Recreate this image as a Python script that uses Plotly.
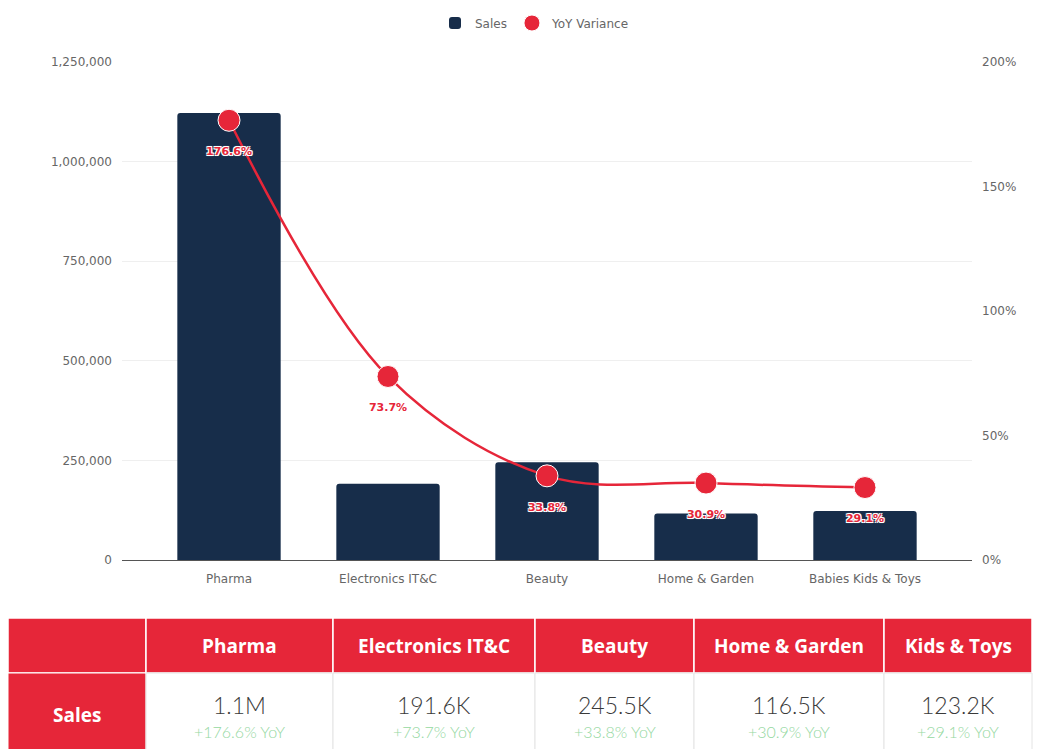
import plotly.graph_objects as go

# ---------------- data ----------------
categories = ["Pharma", "Electronics IT&C", "Beauty", "Home & Garden", "Babies Kids & Toys"]
sales = [1122000, 191600, 245500, 116500, 123200]
yoy = [176.6, 73.7, 33.8, 30.9, 29.1]

table_headers = ["", "Pharma", "Electronics IT&C", "Beauty", "Home & Garden", "Kids & Toys"]
table_row_label = "Sales"
table_values = ["1.1M", "191.6K", "245.5K", "116.5K", "123.2K"]
table_yoy = ["+176.6% YoY", "+73.7% YoY", "+33.8% YoY", "+30.9% YoY", "+29.1% YoY"]

# ---------------- styles ----------------
W, H = 1038, 749
NAVY = "#172d4a"
RED = "#e62639"
GREEN = "#95d89f"
AX_FONT = dict(family="DejaVu Sans, Roboto, Arial, sans-serif", size=12, color="#666666")

def px_x(x):
    return x / W

def px_y(y):
    return 1 - y / H

fig = go.Figure()

fig.add_trace(go.Bar(
    x=categories, y=sales, name="Sales",
    marker=dict(color=NAVY, line=dict(width=0)),
    width=0.65, yaxis="y",
))

# smooth line (no legend entry)
fig.add_trace(go.Scatter(
    x=categories, y=yoy, yaxis="y2", mode="lines",
    line=dict(color=RED, width=2.5, shape="spline", smoothing=1.0),
    showlegend=False, hoverinfo="skip",
))

# markers (legend entry)
fig.add_trace(go.Scatter(
    x=categories, y=yoy, name="YoY Variance", yaxis="y2",
    mode="markers",
    marker=dict(color=RED, size=22, line=dict(color="white", width=1)),
))

# data labels under the points
label_offset = 12.9  # in % units of the secondary axis (~32px)
fig.add_trace(go.Scatter(
    x=categories, y=[v - label_offset for v in yoy], yaxis="y2",
    mode="text", text=[f"{v:.1f}%" for v in yoy],
    textposition="middle center",
    textfont=dict(family="DejaVu Sans, Roboto, Arial, sans-serif", size=11, color=RED, weight="bold",
                  shadow="-1px -1px 0 #fff, 1px -1px 0 #fff, -1px 1px 0 #fff, 1px 1px 0 #fff, 0 0 2px #fff"),
    showlegend=False, hoverinfo="skip",
))

# ---------------- table (shapes + annotations) ----------------
col_edges = [8, 146, 333, 535, 694, 884, 1032]
head_top, head_bot, row_bot = 618, 673, 760

shapes = []
annotations = []
for i in range(len(table_headers)):
    x0, x1 = col_edges[i], col_edges[i + 1]
    shapes.append(dict(type="rect", xref="paper", yref="paper",
                       x0=px_x(x0), x1=px_x(x1), y0=px_y(head_bot), y1=px_y(head_top),
                       fillcolor=RED, line=dict(color="white", width=1.5), layer="above"))
    fill = RED if i == 0 else "white"
    lc = "white" if i == 0 else "#e4e4e4"
    shapes.append(dict(type="rect", xref="paper", yref="paper",
                       x0=px_x(x0), x1=px_x(x1), y0=px_y(row_bot), y1=px_y(head_bot),
                       fillcolor=fill, line=dict(color=lc, width=1), layer="above"))
    xc = px_x((x0 + x1) / 2)
    if table_headers[i]:
        annotations.append(dict(xref="paper", yref="paper", x=xc, y=px_y(646),
                                text=table_headers[i], showarrow=False,
                                xanchor="center", yanchor="middle",
                                font=dict(family="Open Sans, Arial, sans-serif", size=19,
                                          color="white", weight="bold")))
    if i == 0:
        annotations.append(dict(xref="paper", yref="paper", x=xc, y=px_y(715),
                                text=table_row_label, showarrow=False,
                                xanchor="center", yanchor="middle",
                                font=dict(family="Open Sans, Arial, sans-serif", size=19,
                                          color="white", weight="bold")))
    else:
        annotations.append(dict(xref="paper", yref="paper", x=xc, y=px_y(705),
                                text=table_values[i - 1], showarrow=False,
                                xanchor="center", yanchor="middle",
                                font=dict(family="Lato, Open Sans, sans-serif", size=23,
                                          color="#3a3a3a", weight=300)))
        annotations.append(dict(xref="paper", yref="paper", x=xc, y=px_y(731),
                                text=table_yoy[i - 1], showarrow=False,
                                xanchor="center", yanchor="middle",
                                font=dict(family="Lato, Open Sans, sans-serif", size=16,
                                          color=GREEN, weight=300)))

# ---------------- layout ----------------
fig.update_layout(
    width=W, height=H,
    margin=dict(l=0, r=0, t=0, b=0, autoexpand=False),
    paper_bgcolor="white", plot_bgcolor="white",
    font=AX_FONT,
    xaxis=dict(
        domain=[px_x(122), px_x(972)],
        range=[-0.673, 4.673],
        showgrid=False, showline=True, linecolor="#555555", linewidth=1,
        ticks="", tickfont=AX_FONT, ticklabelstandoff=8,
        anchor="y", automargin=False,
    ),
    yaxis=dict(
        domain=[px_y(560), px_y(62)],
        range=[0, 1250000], dtick=250000, tickformat=",",
        showgrid=True, gridcolor="#efefef", gridwidth=1,
        zeroline=False, showline=False, ticks="",
        tickfont=AX_FONT, ticklabelstandoff=9, automargin=False,
    ),
    yaxis2=dict(
        overlaying="y", side="right", anchor="x",
        range=[0, 200], dtick=50, ticksuffix="%",
        showgrid=False, zeroline=False, showline=False, ticks="",
        tickfont=AX_FONT, ticklabelstandoff=9, automargin=False,
    ),
    legend=dict(
        orientation="h", x=px_x(535), xanchor="center", y=px_y(23), yanchor="middle",
        font=AX_FONT,
        bgcolor="rgba(0,0,0,0)", itemsizing="trace",
    ),
    barcornerradius=3,
    shapes=shapes,
    annotations=annotations,
    showlegend=True,
)

fig.write_html("out.html", config={"displayModeBar": False},
               post_script="document.body.style.margin='0';")
